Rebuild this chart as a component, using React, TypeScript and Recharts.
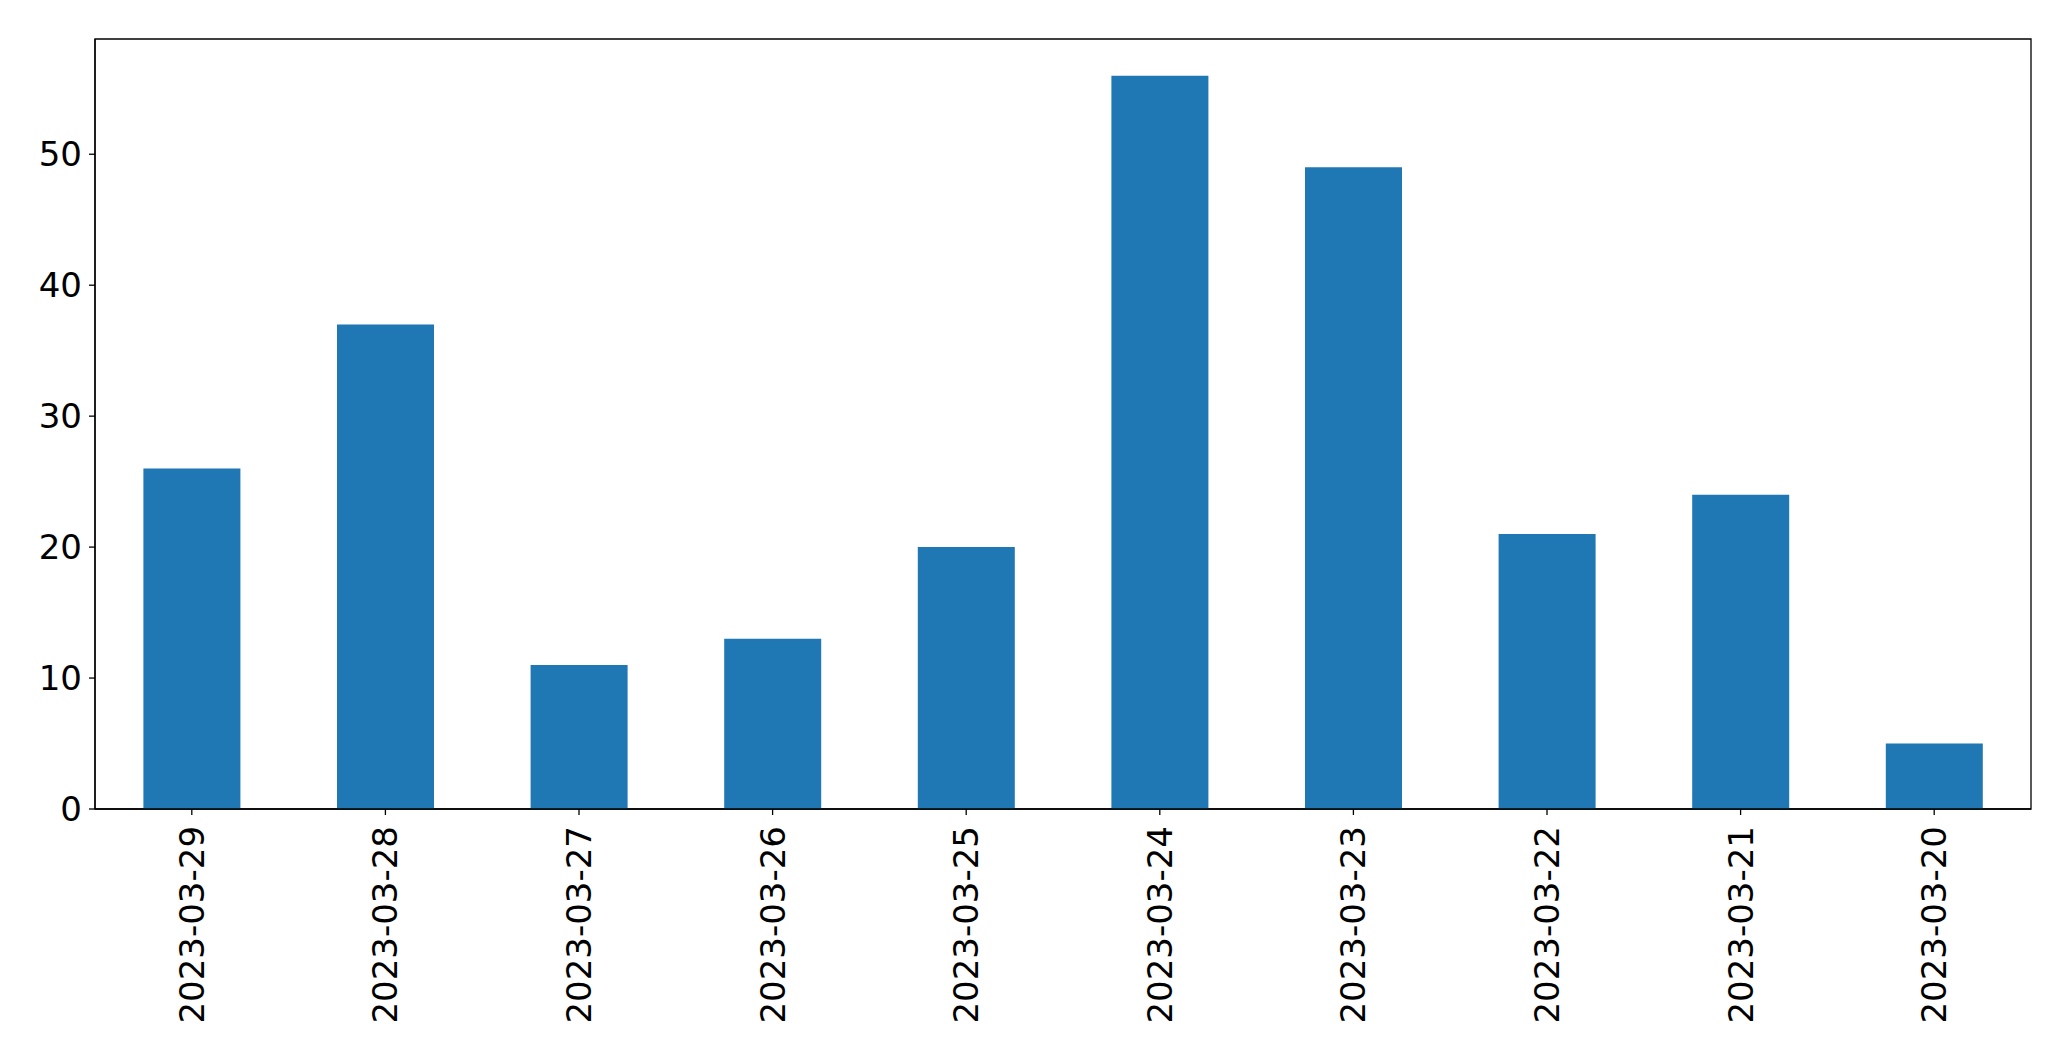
import { BarChart, Bar, XAxis, YAxis, ReferenceArea } from 'recharts';

const dates = [
  '2023-03-29', '2023-03-28', '2023-03-27', '2023-03-26', '2023-03-25',
  '2023-03-24', '2023-03-23', '2023-03-22', '2023-03-21', '2023-03-20',
];
const counts = [26, 37, 11, 13, 20, 56, 49, 21, 24, 5];
const yTicks = [0, 10, 20, 30, 40, 50];
const yMax = 58.8;

const data = dates.map((d, i) => ({ date: d, count: counts[i] }));

const font = '"DejaVu Sans", sans-serif';

function DateTick(props: any) {
  const { x, y, payload } = props;
  return (
    <text
      x={x}
      y={y}
      transform={`rotate(-90 ${x} ${y})`}
      textAnchor="end"
      dominantBaseline="central"
      fontSize={34}
      fontFamily={font}
      fill="#000"
    >
      {payload.value}
    </text>
  );
}

export default function App() {
  return (
    <div style={{ position: 'absolute', left: 0, top: 0, width: 2071, height: 1061, background: '#fff' }}>
      <BarChart
        width={2071}
        height={1061}
        data={data}
        margin={{ top: 39, right: 40, left: 0, bottom: 0 }}
        barCategoryGap="25%"
      >
        <XAxis
          dataKey="date"
          height={252}
          interval={0}
          tick={<DateTick />}
          tickSize={6}
          tickMargin={11}
          axisLine={{ stroke: '#000', strokeWidth: 1.3 }}
          tickLine={{ stroke: '#000', strokeWidth: 1.3 }}
        />
        <YAxis
          width={95}
          domain={[0, yMax]}
          ticks={yTicks}
          tickSize={6}
          tickMargin={7}
          tick={{ fontSize: 34, fontFamily: font, fill: '#000' }}
          axisLine={{ stroke: '#000', strokeWidth: 1.3 }}
          tickLine={{ stroke: '#000', strokeWidth: 1.3 }}
        />
        <Bar dataKey="count" fill="#1f77b4" isAnimationActive={false} />
        <ReferenceArea
          y1={0}
          y2={yMax}
          fill="none"
          fillOpacity={0}
          stroke="#000"
          strokeWidth={1.3}
          strokeOpacity={1}
        />
      </BarChart>
    </div>
  );
}
